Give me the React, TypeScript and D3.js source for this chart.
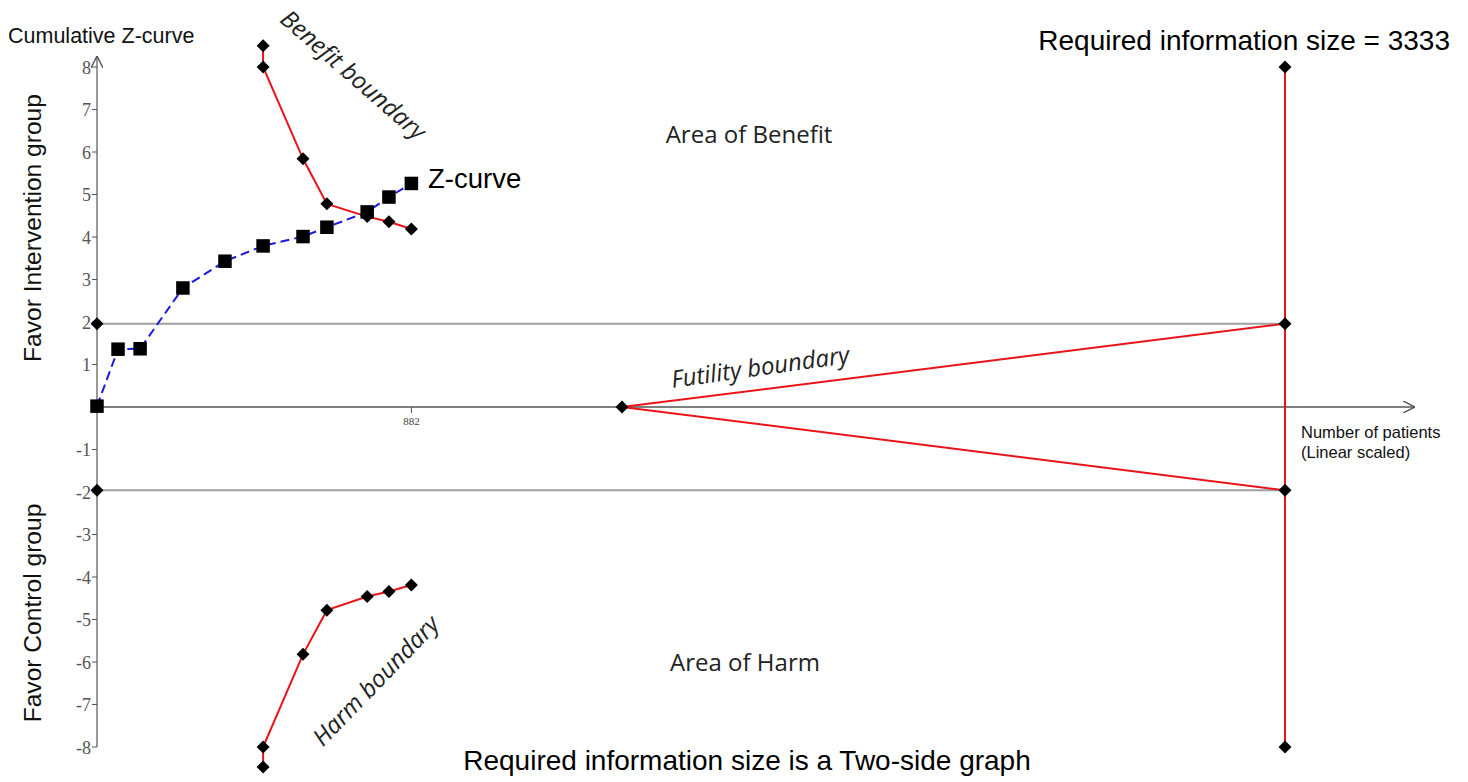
import React from "react";
import * as d3 from "d3";

// cumulative patients and z-values
const zPatients = [0, 59, 121, 241, 359, 466, 578, 645, 758, 819, 882];
const zValues = [0.02, 1.36, 1.37, 2.8, 3.43, 3.79, 4.01, 4.23, 4.59, 4.94, 5.26];

const boundPatients = [466, 466, 578, 645, 758, 819, 882];
const benefitValues = [8.5, 8.0, 5.84, 4.78, 4.48, 4.36, 4.19];
const harmValues = [-8.47, -8.0, -5.82, -4.78, -4.46, -4.34, -4.19];

const conventional = [1.96, -1.96];
const futilityStart = 1473;
const requiredSize = 3333;
const risValues = [8, 1.96, -1.96, -8];
const yTicks = [-8, -7, -6, -5, -4, -3, -2, -1, 1, 2, 3, 4, 5, 6, 7, 8];
const xTicks = [882];

const W = 1468;
const H = 782;
const x = d3.scaleLinear().domain([0, requiredSize]).range([97, 1285]);
const y = d3.scaleLinear().domain([-8, 8]).range([747, 67]);

const RED = "#e8141a";
const sans = "'Liberation Sans', Arial, sans-serif";
const soft = "'Open Sans', sans-serif";

const Diamond = ({ cx, cy }: { cx: number; cy: number }) => (
  <path d={`M${cx},${cy - 6.5}L${cx + 6.5},${cy}L${cx},${cy + 6.5}L${cx - 6.5},${cy}Z`} fill="#000" />
);

export default function App() {
  const line = d3
    .line<[number, number]>()
    .x((d) => x(d[0]))
    .y((d) => y(d[1]));

  const zPts = zPatients.map((p, i) => [p, zValues[i]] as [number, number]);
  const benPts = boundPatients.map((p, i) => [p, benefitValues[i]] as [number, number]);
  const harmPts = boundPatients.map((p, i) => [p, harmValues[i]] as [number, number]);
  const xEnd = 1415;

  return (
    <svg width={W} height={H} style={{ position: "absolute", left: 0, top: 0, background: "#fff" }}>
      <defs>
        <marker id="arr" viewBox="0 0 10 10" refX="10" refY="5" markerWidth="12" markerHeight="12" markerUnits="userSpaceOnUse" orient="auto">
          <path d="M0,0L10,5L0,10" fill="none" stroke="#555" strokeWidth="1.2" />
        </marker>
      </defs>

      {/* conventional boundaries */}
      {conventional.map((v) => (
        <line key={v} x1={x(0)} x2={x(requiredSize)} y1={y(v)} y2={y(v)} stroke="#a0a0a0" strokeWidth={2} />
      ))}

      {/* axes */}
      <line x1={x(0)} x2={x(0)} y1={y(-8)} y2={56} stroke="#555" strokeWidth={1.2} markerEnd="url(#arr)" />
      <line x1={x(0)} x2={xEnd} y1={y(0)} y2={y(0)} stroke="#555" strokeWidth={1.5} markerEnd="url(#arr)" />
      {yTicks.map((t) => (
        <g key={t}>
          <line x1={x(0) - 5} x2={x(0)} y1={y(t)} y2={y(t)} stroke="#555" />
          <text x={x(0) - 6} y={y(t) + 6.5} textAnchor="end" fontFamily="'Liberation Serif', serif" fontSize={18} fill="#555">
            {t}
          </text>
        </g>
      ))}
      {xTicks.map((t) => (
        <g key={t}>
          <line x1={x(t)} x2={x(t)} y1={y(0)} y2={y(0) + 6} stroke="#555" />
          <text x={x(t)} y={y(0) + 18} textAnchor="middle" fontFamily="'Liberation Serif', serif" fontSize={11} fill="#444">
            {t}
          </text>
        </g>
      ))}

      {/* futility boundary */}
      {conventional.map((v) => (
        <line key={"f" + v} x1={x(futilityStart)} y1={y(0)} x2={x(requiredSize)} y2={y(v)} stroke={RED} strokeWidth={2} />
      ))}
      {/* required information size line */}
      <line x1={x(requiredSize)} x2={x(requiredSize)} y1={y(8)} y2={y(-8)} stroke={RED} strokeWidth={2} />

      {/* monitoring boundaries */}
      <path d={line(benPts) || ""} fill="none" stroke={RED} strokeWidth={2} />
      <path d={line(harmPts) || ""} fill="none" stroke={RED} strokeWidth={2} />
      {benPts.concat(harmPts).map((d, i) => (
        <Diamond key={"b" + i} cx={x(d[0])} cy={y(d[1])} />
      ))}
      {conventional.map((v) => (
        <Diamond key={"c" + v} cx={x(0)} cy={y(v)} />
      ))}
      <Diamond cx={x(futilityStart)} cy={y(0)} />
      {risValues.map((v) => (
        <Diamond key={"r" + v} cx={x(requiredSize)} cy={y(v)} />
      ))}

      {/* z-curve */}
      <path d={line(zPts) || ""} fill="none" stroke="#1a1adb" strokeWidth={2} strokeDasharray="9,5" />
      {zPts.map((d, i) => (
        <rect key={"z" + i} x={x(d[0]) - 6.75} y={y(d[1]) - 6.75} width={13.5} height={13.5} fill="#000" />
      ))}

      {/* labels */}
      <text x={8} y={43} fontFamily={sans} fontSize={21.5} fill="#111">Cumulative Z-curve</text>
      <text transform={`translate(41,228) rotate(-90)`} textAnchor="middle" fontFamily={sans} fontSize={24.6} fill="#111">
        Favor Intervention group
      </text>
      <text transform={`translate(41,613) rotate(-90)`} textAnchor="middle" fontFamily={sans} fontSize={24.6} fill="#111">
        Favor Control group
      </text>
      <text x={428} y={188} fontFamily={sans} fontSize={27.5} fill="#000">Z-curve</text>
      <text x={1450} y={50} textAnchor="end" fontFamily={sans} fontSize={28} fill="#000">
        Required information size = 3333
      </text>
      <text x={747} y={770} textAnchor="middle" fontFamily={sans} fontSize={28} fill="#000">
        Required information size is a Two-side graph
      </text>
      <text x={1301} y={438} fontFamily={sans} fontSize={16.5} fill="#111">Number of patients</text>
      <text x={1301} y={458} fontFamily={sans} fontSize={16.5} fill="#111">(Linear scaled)</text>
      <text x={749} y={143} textAnchor="middle" fontFamily={soft} fontSize={24} fill="#222">Area of Benefit</text>
      <text x={745} y={671} textAnchor="middle" fontFamily={soft} fontSize={24} fill="#222">Area of Harm</text>
      <text transform="translate(354,74) rotate(41)" textAnchor="middle" dominantBaseline="central" fontFamily={soft} fontStyle="italic" fontSize={24} fill="#222">
        Benefit boundary
      </text>
      <text transform="translate(375,680) rotate(-46)" textAnchor="middle" dominantBaseline="central" fontFamily={soft} fontStyle="italic" fontSize={24} fill="#222">
        Harm boundary
      </text>
      <text transform="translate(760,366) rotate(-8)" textAnchor="middle" dominantBaseline="central" fontFamily={soft} fontStyle="italic" fontSize={24} fill="#222">
        Futility boundary
      </text>
    </svg>
  );
}
